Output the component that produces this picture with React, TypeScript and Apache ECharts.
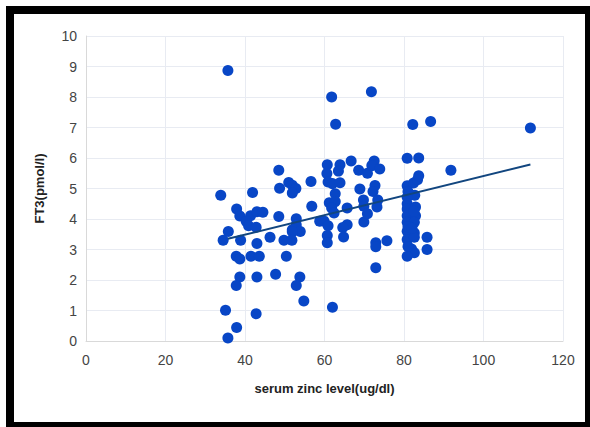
import React, { useEffect, useRef } from "react";
import * as echarts from "echarts";

const zincLevel: number[] = [
  35.7, 61.8, 71.8, 62.8, 82.2, 86.7, 111.8, 80.8, 83.7, 91.8,
  66.7, 72.5, 60.7, 63.9, 63.5, 60.6, 68.6, 70.8, 71.9, 73.9,
  48.5, 60.9, 62.0, 63.9, 56.6, 51.0, 51.9, 52.8, 51.9, 48.7,
  68.9, 72.7, 72.2, 41.9, 33.9, 62.7, 80.8, 82.4, 83.4, 83.7,
  82.7, 80.8, 69.8, 73.4, 56.8, 61.2, 62.7, 61.8, 65.7, 73.2,
  69.9, 80.8, 80.8, 82.9, 37.9, 38.7, 41.4, 43.0, 44.5, 40.3,
  40.9, 42.8, 48.5, 62.4, 59.9, 58.8, 60.9, 69.9, 70.8, 80.8,
  80.8, 82.9, 82.6, 52.9, 52.9, 51.9, 53.9, 51.9, 65.7, 64.6,
  64.8, 35.8, 34.5, 38.9, 46.3, 49.8, 51.8, 60.7, 60.7, 43.0,
  72.9, 72.9, 75.7, 80.8, 80.8, 82.6, 82.6, 85.8, 85.8, 81.9,
  82.6, 80.8, 37.8, 38.7, 41.5, 43.6, 50.4, 72.9, 47.7, 38.7,
  43.0, 53.8, 37.8, 52.9, 54.8, 62.0, 35.1, 42.8, 37.9, 35.7,
  81.0, 81.0, 82.0, 81.0, 82.5,
];

const ft3Level: number[] = [
  8.87, 8.0, 8.17, 7.11, 7.1, 7.2, 6.98, 5.99, 6.0, 5.6,
  5.9, 5.9, 5.78, 5.78, 5.57, 5.49, 5.6, 5.5, 5.75, 5.64,
  5.6, 5.21, 5.16, 5.19, 5.23, 5.2, 5.11, 5.0, 4.85, 5.01,
  4.98, 5.1, 4.9, 4.87, 4.78, 4.83, 5.09, 5.18, 5.29, 5.42,
  4.78, 4.71, 4.62, 4.62, 4.42, 4.53, 4.57, 4.36, 4.36, 4.39,
  4.42, 4.5, 4.33, 4.39, 4.33, 4.1, 4.11, 4.24, 4.22, 3.93,
  3.78, 3.73, 4.08, 4.2, 3.93, 3.93, 3.78, 3.9, 4.17, 4.11,
  3.89, 4.11, 3.89, 4.01, 3.8, 3.65, 3.59, 3.58, 3.81, 3.72,
  3.41, 3.59, 3.3, 3.3, 3.4, 3.3, 3.3, 3.46, 3.22, 3.2,
  3.22, 3.09, 3.29, 3.6, 3.33, 3.54, 3.4, 3.4, 3.0, 3.02,
  2.89, 2.78, 2.78, 2.69, 2.78, 2.78, 2.78, 2.4, 2.19, 2.1,
  2.1, 2.1, 1.82, 1.82, 1.31, 1.11, 1.01, 0.89, 0.44, 0.1,
  3.1, 3.75, 3.7, 4.9, 4.25,
];

const trendX: number[] = [35.7, 111.8];
const trendY: number[] = [3.35, 5.79];

const xTicks = { min: 0, max: 120, interval: 20 };
const yTicks = { min: 0, max: 10, interval: 1 };

export default function App() {
  const ref = useRef<HTMLDivElement>(null);
  useEffect(() => {
    if (!ref.current) return;
    const chart = echarts.init(ref.current, undefined, { renderer: "svg" });
    const font = "Liberation Sans, sans-serif";
    chart.setOption({
      animation: false,
      backgroundColor: "#ffffff",
      graphic: [
        { type: "rect", z: 100, shape: { x: 6, y: 6, width: 8, height: 421 }, style: { fill: "#000" }, silent: true },
        { type: "rect", z: 100, shape: { x: 6, y: 6, width: 584, height: 8 }, style: { fill: "#000" }, silent: true },
        { type: "rect", z: 100, shape: { x: 6, y: 422, width: 584, height: 5 }, style: { fill: "#000" }, silent: true },
        { type: "rect", z: 100, shape: { x: 585, y: 6, width: 5, height: 421 }, style: { fill: "#000" }, silent: true },
      ],
      grid: { left: 86, right: 27, top: 36, bottom: 86 },
      xAxis: {
        type: "value",
        min: xTicks.min,
        max: xTicks.max,
        interval: xTicks.interval,
        name: "serum zinc level(ug/dl)",
        nameLocation: "middle",
        nameGap: 41,
        nameTextStyle: { fontFamily: font, fontSize: 13, fontWeight: "bold", color: "#222" },
        axisLine: { show: true, lineStyle: { color: "#d9d9d9", width: 1 } },
        axisTick: { show: false },
        axisLabel: { fontFamily: font, fontSize: 14, color: "#444", margin: 12 },
        splitLine: { show: true, lineStyle: { color: "#e8ebf2", width: 1 } },
      },
      yAxis: {
        type: "value",
        min: yTicks.min,
        max: yTicks.max,
        interval: yTicks.interval,
        name: "FT3(pmol/l)",
        nameLocation: "middle",
        nameGap: 40,
        nameTextStyle: { fontFamily: font, fontSize: 13, fontWeight: "bold", color: "#222" },
        axisLine: { show: true, lineStyle: { color: "#d9d9d9", width: 1 } },
        axisTick: { show: false },
        axisLabel: { fontFamily: font, fontSize: 14, color: "#444", margin: 9 },
        splitLine: { show: true, lineStyle: { color: "#e8ebf2", width: 1 } },
      },
      series: [
        {
          type: "scatter",
          data: zincLevel.map((x, i) => [x, ft3Level[i]]),
          symbolSize: 11,
          itemStyle: { color: "#0846c6", opacity: 1 },
          z: 2,
        },
        {
          type: "line",
          data: trendX.map((x, i) => [x, trendY[i]]),
          showSymbol: false,
          symbol: "none",
          lineStyle: { color: "#12467f", width: 2 },
          z: 3,
        },
      ],
    });
    return () => chart.dispose();
  }, []);
  return (
    <div
      ref={ref}
      style={{ position: "fixed", left: 0, top: 0, width: 590, height: 427 }}
    />
  );
}
